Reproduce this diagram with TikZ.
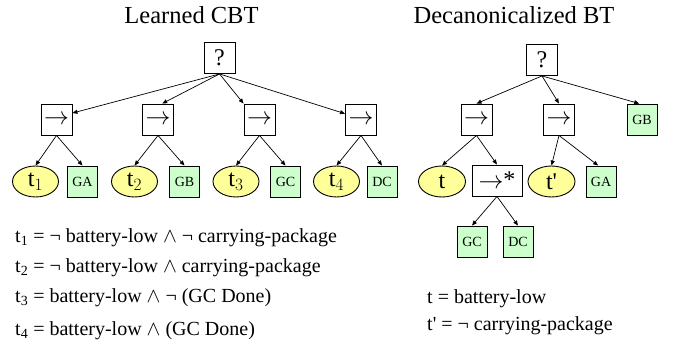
\documentclass[tikz,border=0pt]{standalone}
\usepackage{fontspec}
\setmainfont{Liberation Serif}[Ligatures=TeXOff]
\usetikzlibrary{arrows.meta,shapes.geometric}
\definecolor{condfill}{RGB}{255,255,153}
\definecolor{actfill}{RGB}{204,255,204}
\begin{document}
\begin{tikzpicture}[x=1pt,y=-1pt,
  ctl/.style={draw=black,line width=0.9pt,fill=white,inner sep=0pt,minimum width=31pt,minimum height=31pt,font=\fontsize{24}{26}\selectfont},
  act/.style={draw=black,line width=0.9pt,fill=actfill,inner sep=0pt,minimum width=30pt,minimum height=31pt,font=\fontsize{14}{16}\selectfont},
  cond/.style={draw=black,line width=0.9pt,fill=condfill,ellipse,inner sep=0pt,minimum width=46pt,minimum height=31pt,font=\fontsize{24}{26}\selectfont},
  edge/.style={line width=0.7pt,-{Triangle[length=5pt,width=4pt]}},
  title/.style={anchor=base,font=\fontsize{24.5}{26}\selectfont},
  def/.style={anchor=base west,font=\fontsize{20}{22}\selectfont,inner sep=0pt}]
\useasboundingbox (0,0) rectangle (673,345);
% titles
\node[title] (tl) at (191.5,24) {Learned CBT};
\node[title] (tr) at (514,24) {Decanonicalized BT};
% left tree
\node[ctl] (lr) at (219.5,58) {?};
\node[ctl] (l1) at (56.5,119.5) {$\rightarrow$};
\node[ctl] (l2) at (158,119.5) {$\rightarrow$};
\node[ctl] (l3) at (259.5,119.5) {$\rightarrow$};
\node[ctl] (l4) at (361,119.5) {$\rightarrow$};
\node[cond] (c1) at (35.5,181.5) {t$_1$};
\node[act] (a1) at (82.5,181.5) {GA};
\node[cond] (c2) at (134.5,181.5) {t$_2$};
\node[act] (a2) at (184.5,181.5) {GB};
\node[cond] (c3) at (236,181.5) {t$_3$};
\node[act] (a3) at (285.5,181.5) {GC};
\node[cond] (c4) at (336.5,181.5) {t$_4$};
\node[act] (a4) at (382,181.5) {DC};
\draw[edge] (lr.south) -- (l1.22);
\draw[edge] (lr.south) -- (l2.75);
\draw[edge] (lr.south) -- (l3.north west);
\draw[edge] (lr.south) -- (l4.160);
\foreach \p/\c/\a in {l1/c1/a1,l2/c2/a2,l3/c3/a3,l4/c4/a4}{
  \draw[edge] (\p.south) -- (\c.north);
  \draw[edge] (\p.south) -- (\a.north);
}
% right tree
\node[ctl] (rr) at (542,60) {?};
\node[ctl] (r1) at (476.5,119.5) {$\rightarrow$};
\node[ctl] (r2) at (559,119.5) {$\rightarrow$};
\node[act] (rgb) at (642,119.5) {GB};
\node[cond,minimum width=47pt] (rt) at (442,181.5) {t};
\node[ctl,minimum width=50pt] (rs) at (497,180.5) {$\rightarrow$\raisebox{1pt}{*}};
\node[cond,minimum width=47pt] (rtp) at (551.5,181.5) {t'};
\node[act] (rga) at (601,181.5) {GA};
\node[act] (rgc) at (472,241.5) {GC};
\node[act] (rdc) at (518,241.5) {DC};
\draw[edge] (rr.south) -- (r1.north);
\draw[edge] (rr.south) -- (r2.north);
\draw[edge] (rr.south) -- (rgb.100);
\draw[edge] (r1.south) -- (rt.north);
\draw[edge] (r1.south) -- (rs.north);
\draw[edge] (r2.south) -- (rtp.north);
\draw[edge] (r2.south) -- (rga.100);
\draw[edge] (rs.south) -- (rgc.north);
\draw[edge] (rs.south) -- (rdc.north);
% definitions
\node[def] (d1) at (15,242) {t\textsubscript{1} = ¬ battery-low $\wedge$ ¬ carrying-package};
\node[def] (d2) at (15,272) {t\textsubscript{2} = ¬ battery-low $\wedge$ carrying-package};
\node[def] (d3) at (15,302) {t\textsubscript{3} = battery-low $\wedge$ ¬ (GC Done)};
\node[def] (d4) at (15,335) {t\textsubscript{4} = battery-low $\wedge$ (GC Done)};
\node[def] (e1) at (427,303) {t = battery-low};
\node[def] (e2) at (427,330) {t' = ¬ carrying-package};
\end{tikzpicture}
\end{document}
